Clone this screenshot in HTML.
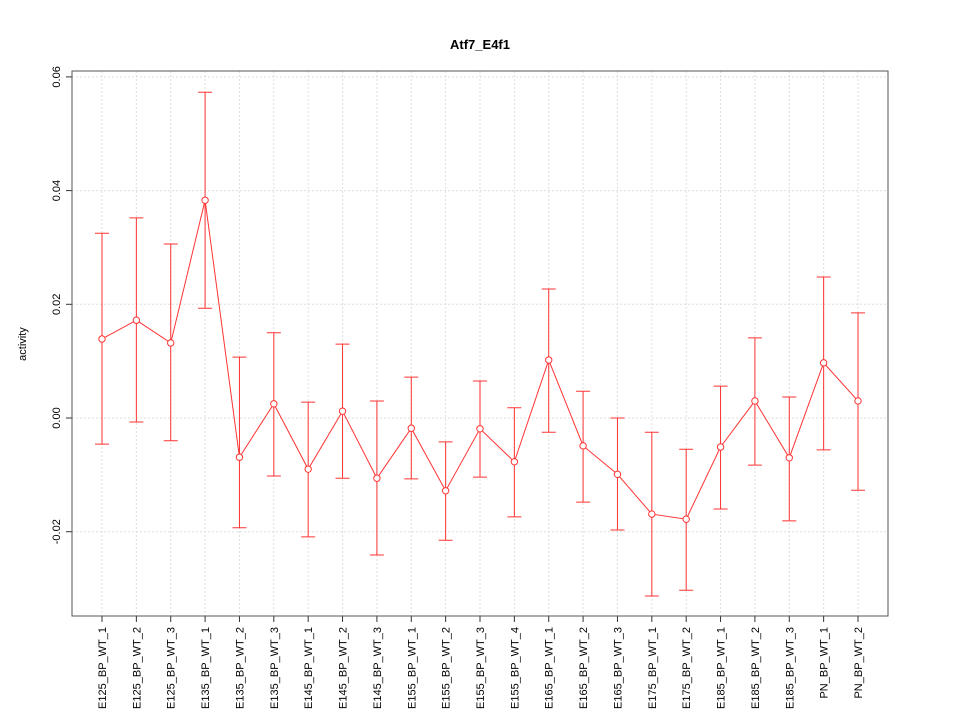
<!DOCTYPE html>
<html><head><meta charset="utf-8"><style>
body{margin:0;background:#fff;}
svg{display:block;font-family:"Liberation Sans",sans-serif;}
</style></head><body>
<svg id="chart" width="960" height="720">
<text x="480" y="49" text-anchor="middle" font-weight="bold" font-size="13">Atf7_E4f1</text>
<text transform="translate(26,344) rotate(-90)" text-anchor="middle" font-size="11">activity</text>
<g id="grid"></g>
<g id="axes"></g>
<g id="marks"></g>
<rect x="72" y="71" width="816" height="545" fill="none" stroke="#555" stroke-width="1"/>
</svg>
<script>
const categories=["E125_BP_WT_1","E125_BP_WT_2","E125_BP_WT_3","E135_BP_WT_1","E135_BP_WT_2","E135_BP_WT_3","E145_BP_WT_1","E145_BP_WT_2","E145_BP_WT_3","E155_BP_WT_1","E155_BP_WT_2","E155_BP_WT_3","E155_BP_WT_4","E165_BP_WT_1","E165_BP_WT_2","E165_BP_WT_3","E175_BP_WT_1","E175_BP_WT_2","E185_BP_WT_1","E185_BP_WT_2","E185_BP_WT_3","PN_BP_WT_1","PN_BP_WT_2"];
const values=[0.0139,0.0172,0.0132,0.0383,-0.0069,0.0025,-0.0090,0.0012,-0.0106,-0.0018,-0.0128,-0.0019,-0.0077,0.0102,-0.0049,-0.0099,-0.0169,-0.0178,-0.0051,0.0030,-0.0070,0.0097,0.0030];
const upper=[0.0325,0.0352,0.0306,0.0573,0.0107,0.0150,0.0028,0.0130,0.0030,0.0072,-0.0042,0.0065,0.0018,0.0227,0.0047,0.0000,-0.0025,-0.0055,0.0056,0.0141,0.0037,0.0248,0.0185];
const lower=[-0.0046,-0.0007,-0.0040,0.0193,-0.0193,-0.0102,-0.0209,-0.0106,-0.0241,-0.0107,-0.0215,-0.0104,-0.0174,-0.0025,-0.0148,-0.0197,-0.0313,-0.0303,-0.0160,-0.0083,-0.0181,-0.0056,-0.0127];
const yTicks=[-0.02,0.00,0.02,0.04,0.06];
const yTickLabels=["-0.02","0.00","0.02","0.04","0.06"];
const NS="http://www.w3.org/2000/svg";
function y(v){return 418-v*5685;}
function x(i){return 102+i*(756/(categories.length-1));}
function mk(tag,attrs,parent){const e=document.createElementNS(NS,tag);for(const k in attrs)e.setAttribute(k,attrs[k]);document.getElementById(parent).appendChild(e);return e;}
yTicks.forEach((t,i)=>{
  let g=mk('line',{x1:72,x2:888,y1:y(t),y2:y(t),stroke:'#ddd','stroke-dasharray':'2,2'},'grid');
  
  
  let tk=mk('line',{x1:66,x2:72,y1:y(t),y2:y(t),stroke:'#333'},'axes');
  
  
  let tx=mk('text',{transform:`translate(60,${y(t)}) rotate(-90)`,'text-anchor':'middle','font-size':'11'},'axes');
  tx.textContent=yTickLabels[i];
  
  
});
categories.forEach((c,i)=>{
  let g=mk('line',{x1:x(i),x2:x(i),y1:71,y2:616,stroke:'#ddd','stroke-dasharray':'2,2'},'grid');
  
  
  let tk=mk('line',{x1:x(i),x2:x(i),y1:616,y2:622,stroke:'#333'},'axes');
  
  
  let tx=mk('text',{transform:`translate(${x(i)+4},627) rotate(-90)`,'text-anchor':'end','font-size':'11'},'axes');
  tx.textContent=c;
  
  
});
let pts=values.map((v,i)=>x(i)+','+y(v)).join(' ');
let pl=mk('polyline',{points:pts,fill:'none',stroke:'#f33','stroke-width':1},'marks');


values.forEach((v,i)=>{
  const xi=x(i);
  let eb=mk('path',{d:`M${xi},${y(upper[i])}V${y(lower[i])}M${xi-7},${y(upper[i])}H${xi+7}M${xi-7},${y(lower[i])}H${xi+7}`,stroke:'#f33',fill:'none'},'marks');
  
  
  let c=mk('circle',{cx:xi,cy:y(v),r:3.2,fill:'#fff',stroke:'#f33'},'marks');
  
  
});
</script>
</body></html>
